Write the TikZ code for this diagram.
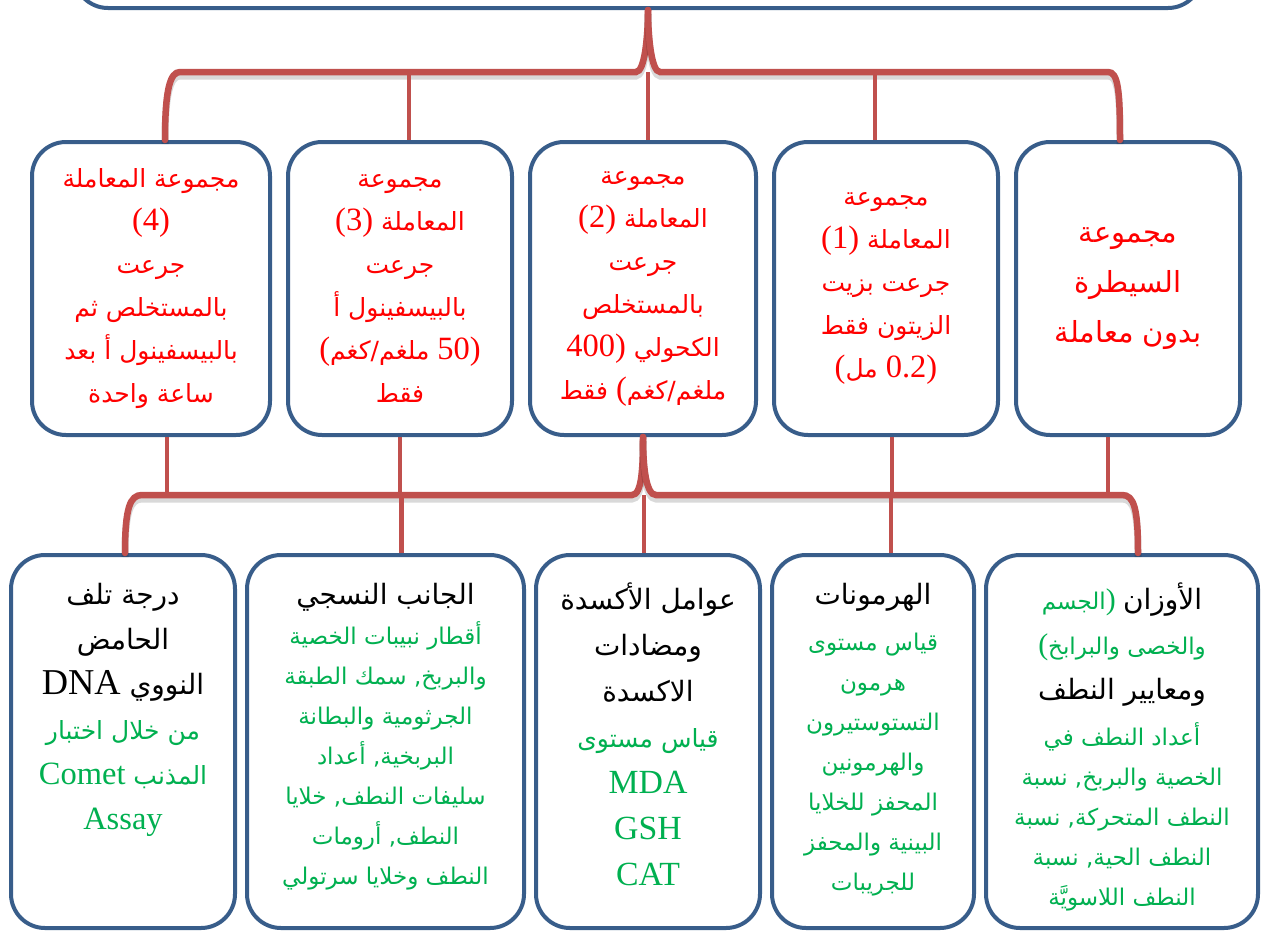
\documentclass[tikz,border=0pt]{standalone}
\usepackage{fontspec}
\setmainfont{Liberation Serif}
\newfontfamily\arabicfont[Script=Arabic]{DejaVu Sans}
\newfontfamily\latinfont[Scale=1.3]{Liberation Serif}
\TeXXeTstate=1
\usetikzlibrary{positioning}
\definecolor{Frame}{HTML}{385D8A}
\definecolor{Link}{HTML}{C0504D}
\definecolor{Alert}{HTML}{FF0000}
\definecolor{Leaf}{HTML}{00B050}
\newcommand\arl[1]{\beginR#1\endR}
\newcommand\ltn[1]{\beginL{\latinfont#1}\endL}
\newcommand\grn[1]{{\color{Leaf}#1}}
\newcommand\hdr[1]{{\fontsize{28}{40}\selectfont#1}}
\newcommand\code[1]{{\fontsize{26}{46}\selectfont\ltn{#1}}}
\tikzset{
  box/.style={draw=Frame,line width=4pt,fill=white,rounded corners=34pt},
  grp/.style={box,minimum height=293pt,align=center,text=Alert,font=\arabicfont\fontsize{25}{43}\selectfont},
  leaf/.style={box,minimum height=373pt},
  note/.style={align=center,inner sep=0pt,font=\arabicfont\fontsize{23}{40}\selectfont},
  brace/.style={draw=Link,line width=6.5pt,line cap=round,preaction={draw=black,opacity=.15,line width=7pt,transform canvas={yshift=-4pt}}},
  stem/.style={draw=Link,line width=4.5pt}
}

\begin{document}
\begin{tikzpicture}[x=1pt,y=-1pt,node distance=14pt]
  \useasboundingbox (0,0) rectangle (1262,932);
  \clip (0,0) rectangle (1262,932);
  \node[box,minimum width=1128pt,minimum height=220pt] (title) at (638,-102) {};
  % treatment groups
  \node[grp,minimum width=238pt] (trt4) at (151,288.5) {\arl{مجموعة المعاملة}\\ \ltn{(4)}\\ \arl{جرعت}\\ \arl{بالمستخلص ثم}\\ \arl{بالبيسفينول أ بعد}\\ \arl{ساعة واحدة}};
  \node[grp,minimum width=224pt,right=of trt4] (trt3) {\arl{مجموعة}\\ \arl{المعاملة \ltn{(3)}}\\ \arl{جرعت}\\ \arl{بالبيسفينول أ}\\ \arl{\ltn{50)} ملغم/كغم\ltn{(}}\\ \arl{فقط}};
  \node[grp,minimum width=226pt,right=of trt3] (trt2) {\arl{مجموعة}\\ \arl{المعاملة \ltn{(2)}}\\ \arl{جرعت}\\ \arl{بالمستخلص}\\ \arl{الكحولي \ltn{400)}}\\ \arl{ملغم/كغم\ltn{(} فقط}};
  \node[grp,minimum width=224pt,right=of trt2] (trt1) {\arl{مجموعة}\\ \arl{المعاملة \ltn{(1)}}\\ \arl{جرعت بزيت}\\ \arl{الزيتون فقط}\\ \arl{\ltn{0.2)} مل\ltn{(}}};
  \node[grp,minimum width=224pt,right=of trt1,font=\arabicfont\fontsize{29}{50}\selectfont] (ctrl) {\arl{مجموعة}\\ \arl{السيطرة}\\ \arl{بدون معاملة}};
  % measured parameters
  \node[leaf,minimum width=224pt] (leaf1) at (123,741.5) {};
  \node[leaf,minimum width=277pt,right=8pt of leaf1] (leaf2) {};
  \node[leaf,minimum width=224pt,right=8pt of leaf2] (leaf3) {};
  \node[leaf,minimum width=202pt,right=8pt of leaf3] (leaf4) {};
  \node[leaf,minimum width=272pt,right=8pt of leaf4] (leaf5) {};
  \node[note,below=30pt of leaf1.north,font=\arabicfont\fontsize{25}{45}\selectfont] (dna) {\hdr{\arl{درجة تلف}}\\ \hdr{\arl{الحامض}}\\ \hdr{\arl{النووي \ltn{DNA}}}\\ \grn{\arl{من خلال اختبار}}\\ \grn{\arl{المذنب \ltn{Comet}}}\\ \grn{\ltn{Assay}}};
  \node[note,below=30pt of leaf2.north] (histo) {\hdr{\arl{الجانب النسجي}}\\ \grn{\arl{أقطار نبيبات الخصية}}\\ \grn{\arl{والبربخ, سمك الطبقة}}\\ \grn{\arl{الجرثومية والبطانة}}\\ \grn{\arl{البربخية, أعداد}}\\ \grn{\arl{سليفات النطف, خلايا}}\\ \grn{\arl{النطف, أرومات}}\\ \grn{\arl{النطف وخلايا سرتولي}}};
  \node[note,below=30pt of leaf3.north,font=\arabicfont\fontsize{25}{46}\selectfont] (oxid) {\hdr{\arl{عوامل الأكسدة}}\\ \hdr{\arl{ومضادات}}\\ \hdr{\arl{الاكسدة}}\\ \grn{\arl{قياس مستوى}}\\ \grn{\code{MDA}}\\ \grn{\code{GSH}}\\ \grn{\code{CAT}}};
  \node[note,below=30pt of leaf4.north] (horm) {\hdr{\arl{الهرمونات}}\\[6pt] \grn{\arl{قياس مستوى}}\\ \grn{\arl{هرمون}}\\ \grn{\arl{التستوستيرون}}\\ \grn{\arl{والهرمونين}}\\ \grn{\arl{المحفز للخلايا}}\\ \grn{\arl{البينية والمحفز}}\\ \grn{\arl{للجريبات}}};
  \node[note,below=30pt of leaf5.north] (wts) {\grn{\arl{الجسم}\ltn{)}}\ \hdr{\arl{الأوزان}}\\[5pt] \grn{\ltn{(}\arl{والخصى والبرابخ}}\\[5pt] \hdr{\arl{ومعايير النطف}}\\[6pt] \grn{\arl{أعداد النطف في}}\\ \grn{\arl{الخصية والبربخ, نسبة}}\\ \grn{\arl{النطف المتحركة, نسبة}}\\ \grn{\arl{النطف الحية, نسبة}}\\ \grn{\arl{النطف اللاسويَّة}}};
  % upper bracket
  \coordinate (b1l) at (180,72);
  \coordinate (b1c) at (648,72);
  \coordinate (b1r) at (1108,72);
  \draw[brace] ([xshift=14pt]trt4.north) .. controls +(0,-50) and +(-10,0) .. (b1l) -- ([xshift=-12pt]b1c) .. controls +(9,0) and +(0,24) .. ([xshift=10pt]title.south);
  \draw[brace] ([xshift=-8pt]ctrl.north) .. controls +(0,-50) and +(10,0) .. (b1r) -- ([xshift=12pt]b1c) .. controls +(-9,0) and +(0,24) .. ([xshift=10pt]title.south);
  \draw[stem] ([xshift=9pt]trt3.north) -- ([xshift=9pt]trt3.north |- b1c);
  \draw[stem] ([xshift=5pt]trt2.north) -- (b1c);
  \draw[stem] ([xshift=-11pt]trt1.north) -- ([xshift=-11pt]trt1.north |- b1c);
  % lower bracket
  \coordinate (b2l) at (142,495);
  \coordinate (b2c) at (644,495);
  \coordinate (b2r) at (1122,495);
  \draw[brace] ([xshift=2pt]leaf1.north) .. controls +(0,-45) and +(-12,0) .. (b2l) -- ([xshift=-12pt]b2c) .. controls +(10,0) and +(0,30) .. (trt2.south);
  \draw[brace] ([xshift=16pt]leaf5.north) .. controls +(0,-45) and +(12,0) .. (b2r) -- ([xshift=12pt]b2c) .. controls +(-10,0) and +(0,30) .. (trt2.south);
  \draw[stem] ([xshift=16pt]trt4.south) -- ([xshift=16pt]trt4.south |- b2c);
  \draw[stem] (trt3.south) -- (trt3.south |- b2c);
  \draw[stem] ([xshift=6pt]trt1.south) -- ([xshift=6pt]trt1.south |- b2c);
  \draw[stem] ([xshift=-20pt]ctrl.south) -- ([xshift=-20pt]ctrl.south |- b2c);
  \draw[stem] ([xshift=16pt]leaf2.north) -- ([xshift=16pt]leaf2.north |- b2c);
  \draw[stem] ([xshift=-4pt]leaf3.north) -- (b2c);
  \draw[stem] ([xshift=18pt]leaf4.north) -- ([xshift=18pt]leaf4.north |- b2c);
\end{tikzpicture}
\end{document}
